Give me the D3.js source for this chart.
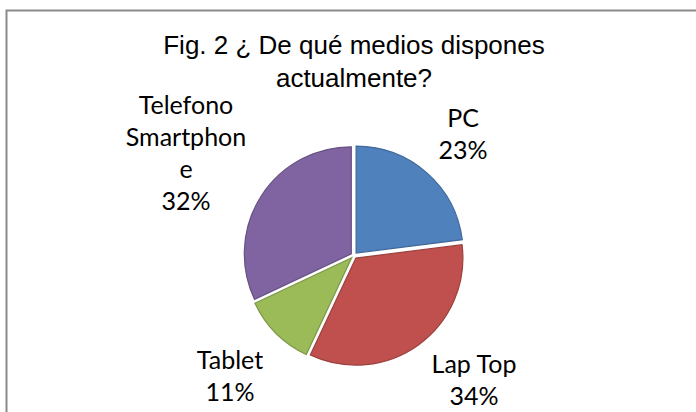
<!DOCTYPE html>
<html><head><meta charset="utf-8">
<script src="https://cdn.jsdelivr.net/npm/d3@7"></script>
<style>html,body{margin:0;padding:0;background:#fff;}svg{display:block;}</style>
</head><body>
<svg id="chart" width="696" height="412"></svg>
<script>
const categories = ["PC", "Lap Top", "Tablet", "Telefono Smartphone"];
const values = [23, 34, 11, 32];
const colors = ["#4F81BD", "#C0504D", "#9BBB59", "#8064A2"];
const labelLines = [["PC", "23%"], ["Lap Top", "34%"], ["Tablet", "11%"], ["Telefono", "Smartphon", "e", "32%"]];
const titleLines = ["Fig. 2 ¿ De qué medios dispones", "actualmente?"];

const svg = d3.select("#chart");
svg.append("rect").attr("x", 6.5).attr("y", 10.5).attr("width", 760).attr("height", 500)
  .attr("fill", "#fff").attr("stroke", "#8a8a8a").attr("stroke-width", 2);

svg.append("text").attr("x", 354).attr("y", 54).attr("text-anchor", "middle")
  .attr("font-family", "Liberation Sans, Arial, sans-serif").attr("font-size", 26).attr("fill", "#000")
  .selectAll("tspan").data(titleLines).join("tspan")
  .attr("x", 354).attr("dy", (d, i) => i ? 33 : 0).text(d => d);

const cx = 354, cy = 255.5, r = 107, explode = 3.2;
const pie = d3.pie().sort(null).value(d => d)(values);
const arc = d3.arc().innerRadius(0).outerRadius(r);
const g = svg.append("g").attr("transform", `translate(${cx},${cy})`);
g.selectAll("path").data(pie).join("path")
  .attr("transform", d => {
    const a = (d.startAngle + d.endAngle) / 2;
    return `translate(${explode * Math.sin(a)},${-explode * Math.cos(a)})`;
  })
  .attr("d", arc)
  .attr("fill", (d, i) => colors[i])
  .attr("stroke", (d, i) => d3.color(colors[i]).darker(0.6))
  .attr("stroke-width", 1.2);

// label anchor positions: [centerX, firstBaseline]
const labelPos = [[463, 127], [474, 373], [230, 369], [186, 114]];
const lab = svg.append("g").attr("font-family", "Lato, Carlito, Calibri, sans-serif").attr("font-size", 25).attr("fill", "#000");
labelLines.forEach((lines, i) => {
  const t = lab.append("text").attr("text-anchor", "middle").attr("y", labelPos[i][1]);
  t.selectAll("tspan").data(lines).join("tspan")
    .attr("x", labelPos[i][0]).attr("dy", (d, j) => j ? 32 : 0).text(d => d);
});
</script>
</body></html>
